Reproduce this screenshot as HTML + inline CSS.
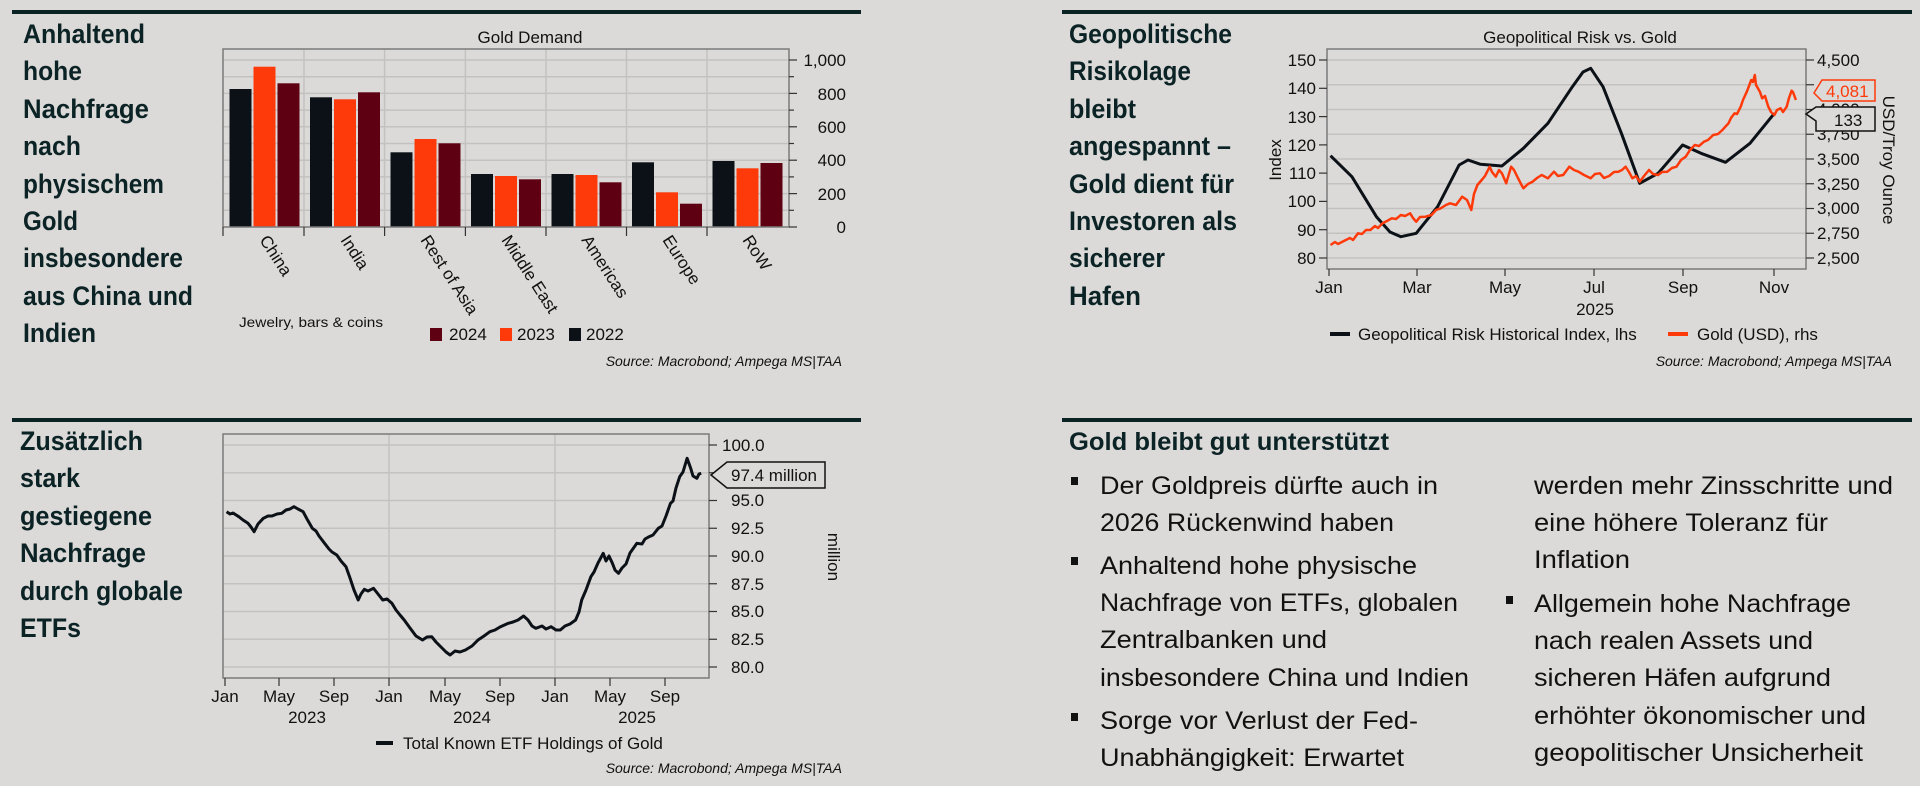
<!DOCTYPE html>
<html><head><meta charset="utf-8"><style>
html,body{margin:0;padding:0;background:#fff}
svg{display:block}
.h{font-family:"Liberation Sans Narrow","Liberation Sans",sans-serif;font-weight:bold;font-size:27px;fill:#0c2326}
.b{font-family:"Liberation Sans Narrow","Liberation Sans",sans-serif;font-size:25px;fill:#111}
.t{font-family:"Liberation Sans Narrow","Liberation Sans",sans-serif;font-size:17px;fill:#111}
.s{font-family:"Liberation Sans Narrow","Liberation Sans",sans-serif;font-size:14px;fill:#111;font-style:italic}
</style></head><body>
<svg width="1920" height="798" viewBox="0 0 1920 798" xmlns="http://www.w3.org/2000/svg">
<rect width="1920" height="786" fill="#dcdad8"/>
<!-- top lines -->
<rect x="12" y="10" width="849" height="4" fill="#0c2326"/>
<rect x="1062" y="10" width="850" height="4" fill="#0c2326"/>
<rect x="12" y="418" width="849" height="4" fill="#0c2326"/>
<rect x="1062" y="418" width="850" height="4" fill="#0c2326"/>

<!-- Panel 1 headline -->
<g class="h">
<text x="23" y="43" textLength="122" lengthAdjust="spacingAndGlyphs">Anhaltend</text>
<text x="23" y="80" textLength="59" lengthAdjust="spacingAndGlyphs">hohe</text>
<text x="23" y="118" textLength="126" lengthAdjust="spacingAndGlyphs">Nachfrage</text>
<text x="23" y="155" textLength="58" lengthAdjust="spacingAndGlyphs">nach</text>
<text x="23" y="193" textLength="141" lengthAdjust="spacingAndGlyphs">physischem</text>
<text x="23" y="230" textLength="55" lengthAdjust="spacingAndGlyphs">Gold</text>
<text x="23" y="267" textLength="160" lengthAdjust="spacingAndGlyphs">insbesondere</text>
<text x="23" y="305" textLength="170" lengthAdjust="spacingAndGlyphs">aus China und</text>
<text x="23" y="342" textLength="73" lengthAdjust="spacingAndGlyphs">Indien</text>
</g>
<!-- Bar chart -->
<text class="t" x="530" y="43" text-anchor="middle">Gold Demand</text>
<g stroke="#c4c2c0" stroke-width="1.5">
<line x1="223" x2="789" y1="210.3" y2="210.3"/><line x1="223" x2="789" y1="193.6" y2="193.6"/>
<line x1="223" x2="789" y1="176.9" y2="176.9"/><line x1="223" x2="789" y1="160.2" y2="160.2"/>
<line x1="223" x2="789" y1="143.5" y2="143.5"/><line x1="223" x2="789" y1="126.8" y2="126.8"/>
<line x1="223" x2="789" y1="110.1" y2="110.1"/><line x1="223" x2="789" y1="93.4" y2="93.4"/>
<line x1="223" x2="789" y1="76.7" y2="76.7"/><line x1="223" x2="789" y1="60" y2="60"/>
<line x1="304" x2="304" y1="49" y2="227"/><line x1="384.6" x2="384.6" y1="49" y2="227"/>
<line x1="465.4" x2="465.4" y1="49" y2="227"/><line x1="546" x2="546" y1="49" y2="227"/>
<line x1="626.5" x2="626.5" y1="49" y2="227"/><line x1="707" x2="707" y1="49" y2="227"/>
</g>
<g>
<!-- China -->
<rect x="229.5" y="89" width="22" height="138" fill="#0b1117"/><rect x="253.5" y="66.7" width="22" height="160.3" fill="#ff3a0a"/><rect x="277.5" y="83.3" width="22" height="143.7" fill="#5e0011"/>
<rect x="310" y="97.3" width="22" height="129.7" fill="#0b1117"/><rect x="334" y="99.3" width="22" height="127.7" fill="#ff3a0a"/><rect x="358" y="92.3" width="22" height="134.7" fill="#5e0011"/>
<rect x="390.5" y="152.3" width="22" height="74.7" fill="#0b1117"/><rect x="414.5" y="139" width="22" height="88" fill="#ff3a0a"/><rect x="438.5" y="143.3" width="22" height="83.7" fill="#5e0011"/>
<rect x="471" y="174" width="22" height="53" fill="#0b1117"/><rect x="495" y="176" width="22" height="51" fill="#ff3a0a"/><rect x="519" y="179.3" width="22" height="47.7" fill="#5e0011"/>
<rect x="551.5" y="174" width="22" height="53" fill="#0b1117"/><rect x="575.5" y="175" width="22" height="52" fill="#ff3a0a"/><rect x="599.5" y="182.3" width="22" height="44.7" fill="#5e0011"/>
<rect x="632" y="162.3" width="22" height="64.7" fill="#0b1117"/><rect x="656" y="192.3" width="22" height="34.7" fill="#ff3a0a"/><rect x="680" y="203.7" width="22" height="23.3" fill="#5e0011"/>
<rect x="712.5" y="161" width="22" height="66" fill="#0b1117"/><rect x="736.5" y="168.3" width="22" height="58.7" fill="#ff3a0a"/><rect x="760.5" y="163" width="22" height="64" fill="#5e0011"/>
</g>
<rect x="223" y="49" width="566" height="178" fill="none" stroke="#7a7a7a" stroke-width="1.5"/>
<g stroke="#333" stroke-width="1.2">
<line x1="223" x2="223" y1="227" y2="236"/><line x1="304" x2="304" y1="227" y2="236"/><line x1="384.6" x2="384.6" y1="227" y2="236"/><line x1="465.4" x2="465.4" y1="227" y2="236"/><line x1="546" x2="546" y1="227" y2="236"/><line x1="626.5" x2="626.5" y1="227" y2="236"/><line x1="707" x2="707" y1="227" y2="236"/>
<line x1="789" x2="797" y1="227" y2="227"/><line x1="789" x2="797" y1="193.6" y2="193.6"/><line x1="789" x2="797" y1="160.2" y2="160.2"/><line x1="789" x2="797" y1="126.8" y2="126.8"/><line x1="789" x2="797" y1="93.4" y2="93.4"/><line x1="789" x2="797" y1="60" y2="60"/>
<line x1="789" x2="794" y1="210.3" y2="210.3"/><line x1="789" x2="794" y1="176.9" y2="176.9"/><line x1="789" x2="794" y1="143.5" y2="143.5"/><line x1="789" x2="794" y1="110.1" y2="110.1"/><line x1="789" x2="794" y1="76.7" y2="76.7"/>
</g>
<g class="t" text-anchor="end">
<text x="846" y="233">0</text><text x="846" y="200">200</text><text x="846" y="166">400</text><text x="846" y="133">600</text><text x="846" y="100">800</text><text x="846" y="66">1,000</text>
</g>
<g class="t">
<text transform="translate(259,240) rotate(57)">China</text>
<text transform="translate(340,240) rotate(57)">India</text>
<text transform="translate(420,240) rotate(57)">Rest of Asia</text>
<text transform="translate(501,240) rotate(57)">Middle East</text>
<text transform="translate(581,240) rotate(57)">Americas</text>
<text transform="translate(662,240) rotate(57)">Europe</text>
<text transform="translate(742,240) rotate(57)">RoW</text>
</g>
<text x="239" y="327" font-family="Liberation Sans Narrow,Liberation Sans,sans-serif" font-size="14" fill="#111" textLength="144" lengthAdjust="spacingAndGlyphs">Jewelry, bars &amp; coins</text>
<rect x="430" y="328" width="12" height="13" fill="#5e0011"/><text class="t" x="449" y="340">2024</text>
<rect x="500" y="328" width="12" height="13" fill="#ff3a0a"/><text class="t" x="517" y="340">2023</text>
<rect x="569" y="328" width="12" height="13" fill="#0b1117"/><text class="t" x="586" y="340">2022</text>
<text class="s" x="842" y="366" text-anchor="end">Source: Macrobond; Ampega MS|TAA</text>

<!-- Panel 2 headline -->
<g class="h">
<text x="1069" y="43" textLength="163" lengthAdjust="spacingAndGlyphs">Geopolitische</text>
<text x="1069" y="80" textLength="122" lengthAdjust="spacingAndGlyphs">Risikolage</text>
<text x="1069" y="118" textLength="67" lengthAdjust="spacingAndGlyphs">bleibt</text>
<text x="1069" y="155" textLength="162" lengthAdjust="spacingAndGlyphs">angespannt –</text>
<text x="1069" y="193" textLength="165" lengthAdjust="spacingAndGlyphs">Gold dient für</text>
<text x="1069" y="230" textLength="168" lengthAdjust="spacingAndGlyphs">Investoren als</text>
<text x="1069" y="267" textLength="96" lengthAdjust="spacingAndGlyphs">sicherer</text>
<text x="1069" y="305" textLength="72" lengthAdjust="spacingAndGlyphs">Hafen</text>
</g>
<text class="t" x="1580" y="43" text-anchor="middle">Geopolitical Risk vs. Gold</text>
<g stroke="#c4c2c0" stroke-width="1.5">
<line x1="1327" x2="1806" y1="60" y2="60"/><line x1="1327" x2="1806" y1="84.75" y2="84.75"/><line x1="1327" x2="1806" y1="109.5" y2="109.5"/><line x1="1327" x2="1806" y1="134.25" y2="134.25"/><line x1="1327" x2="1806" y1="159" y2="159"/><line x1="1327" x2="1806" y1="183.75" y2="183.75"/><line x1="1327" x2="1806" y1="208.5" y2="208.5"/><line x1="1327" x2="1806" y1="233.25" y2="233.25"/><line x1="1327" x2="1806" y1="258" y2="258"/>
</g>
<rect x="1327" y="49" width="479" height="220" fill="none" stroke="#7a7a7a" stroke-width="1.5"/>
<polyline fill="none" stroke="#0b1117" stroke-width="3" stroke-linejoin="round" points="1330.5,155.7 1351.9,176.7 1376.4,216.7 1390,232 1400.9,236.7 1416.2,233.3 1437.6,206.7 1459.1,165 1468,160 1480.5,164.3 1501.9,166 1523.4,148.3 1547.9,123.3 1572.4,86.7 1583,72 1590.7,68.3 1603,86.7 1621.4,133.3 1639.7,183.3 1658.1,173.3 1682.6,145 1701,153.3 1725.5,162.3 1750,143.3 1774.4,113.3"/>
<polyline fill="none" stroke="#ff3a0a" stroke-width="2.5" stroke-linejoin="round" points="1330.5,245 1335,242 1338,244 1345.8,240 1350,238 1353,240 1358,233.3 1362,234 1366,230 1370.3,230 1375,226 1378,228 1382.5,223.3 1387,221 1391.7,218.3 1396,219 1400.9,215 1405,216 1410.1,213.3 1413,218 1416.2,221.7 1420,217 1425.4,216.7 1431.5,215 1436,210 1440.7,208.3 1446,205 1450,203.3 1456,205 1462.1,196.7 1467,200 1471.3,210 1474,194 1477.4,185 1481.7,180 1485,176 1489.7,166.7 1492,172 1495.8,176.7 1499,170 1501.9,173.3 1506.2,183.3 1511.1,166.7 1514,170 1517.3,176.7 1521,184 1523.4,188.3 1528,184 1532.6,181.7 1537,178 1541.7,175 1547.9,178.3 1554,171.7 1558,176 1563.2,175 1569.3,166.7 1574,170 1578.5,171.7 1584,175 1590.7,178.3 1595,174 1599.9,173.3 1604,178 1609.1,176 1614,172 1618.3,171.7 1622,170 1625.6,166.7 1629,172 1632.4,178.3 1636,176 1639.7,181.7 1644,176 1649,170 1653,174 1658.1,175 1662,172 1667.3,171.7 1672,168 1676.5,166.7 1681,160 1685.7,156.7 1690,150 1694.8,145 1699,146 1704,141.7 1708,140 1713.2,135 1718,134 1722.4,130 1726,126 1728.5,123.3 1731,118 1734.6,113.3 1737,114 1740.7,106.7 1743,100 1746.8,91.7 1749,86 1751.2,80 1753,82 1754.8,75 1756,85 1757.9,88.3 1760,92 1762.2,98.3 1765,96 1768.3,106.7 1771,112 1774.4,115 1777,110 1780.6,108.3 1783,112 1786.7,106.7 1789,98 1791.6,90.7 1793,92 1795.9,100"/>
<g stroke="#333" stroke-width="1.2">
<line x1="1319" x2="1327" y1="60" y2="60"/><line x1="1319" x2="1327" y1="88.3" y2="88.3"/><line x1="1319" x2="1327" y1="116.6" y2="116.6"/><line x1="1319" x2="1327" y1="144.9" y2="144.9"/><line x1="1319" x2="1327" y1="173.1" y2="173.1"/><line x1="1319" x2="1327" y1="201.4" y2="201.4"/><line x1="1319" x2="1327" y1="229.7" y2="229.7"/><line x1="1319" x2="1327" y1="258" y2="258"/>
<line x1="1806" x2="1814" y1="60" y2="60"/><line x1="1806" x2="1814" y1="84.75" y2="84.75"/><line x1="1806" x2="1814" y1="109.5" y2="109.5"/><line x1="1806" x2="1814" y1="134.25" y2="134.25"/><line x1="1806" x2="1814" y1="159" y2="159"/><line x1="1806" x2="1814" y1="183.75" y2="183.75"/><line x1="1806" x2="1814" y1="208.5" y2="208.5"/><line x1="1806" x2="1814" y1="233.25" y2="233.25"/><line x1="1806" x2="1814" y1="258" y2="258"/>
<line x1="1329" x2="1329" y1="269" y2="276"/><line x1="1417" x2="1417" y1="269" y2="276"/><line x1="1505" x2="1505" y1="269" y2="276"/><line x1="1594" x2="1594" y1="269" y2="276"/><line x1="1683" x2="1683" y1="269" y2="276"/><line x1="1774" x2="1774" y1="269" y2="276"/>
</g>
<g class="t" text-anchor="end">
<text x="1316" y="66">150</text><text x="1316" y="94">140</text><text x="1316" y="123">130</text><text x="1316" y="151">120</text><text x="1316" y="179">110</text><text x="1316" y="207">100</text><text x="1316" y="236">90</text><text x="1316" y="264">80</text>
</g>
<g class="t">
<text x="1817" y="66">4,500</text><text x="1817" y="91">4,250</text><text x="1817" y="115">4,000</text><text x="1817" y="140">3,750</text><text x="1817" y="165">3,500</text><text x="1817" y="190">3,250</text><text x="1817" y="214">3,000</text><text x="1817" y="239">2,750</text><text x="1817" y="264">2,500</text>
</g>
<path d="M1814,93 L1822,80 L1875,80 L1875,101 L1822,101 Z" fill="#dcdad8" stroke="#ff3a0a" stroke-width="1.5"/>
<text x="1826" y="97" font-family="Liberation Sans Narrow,Liberation Sans,sans-serif" font-size="17" fill="#ff3a0a">4,081</text>
<path d="M1806,114 L1816,107 L1875,107 L1875,131 L1816,131 L1816,121 Z" fill="#dcdad8" stroke="#111" stroke-width="1.5"/>
<text x="1834" y="126" class="t">133</text>
<text class="t" transform="translate(1281,160) rotate(-90)" text-anchor="middle">Index</text>
<text class="t" transform="translate(1883,160) rotate(90)" text-anchor="middle">USD/Troy Ounce</text>
<g class="t" text-anchor="middle">
<text x="1329" y="293">Jan</text><text x="1417" y="293">Mar</text><text x="1505" y="293">May</text><text x="1594" y="293">Jul</text><text x="1683" y="293">Sep</text><text x="1774" y="293">Nov</text><text x="1595" y="315">2025</text>
</g>
<rect x="1330" y="332" width="20" height="4" fill="#0b1117"/>
<text class="t" x="1358" y="340">Geopolitical Risk Historical Index, lhs</text>
<rect x="1668" y="332" width="20" height="4" fill="#ff3a0a"/>
<text class="t" x="1697" y="340">Gold (USD), rhs</text>
<text class="s" x="1892" y="366" text-anchor="end">Source: Macrobond; Ampega MS|TAA</text>

<!-- Panel 3 -->
<g class="h">
<text x="20" y="450" textLength="123" lengthAdjust="spacingAndGlyphs">Zusätzlich</text>
<text x="20" y="487" textLength="60" lengthAdjust="spacingAndGlyphs">stark</text>
<text x="20" y="525" textLength="132" lengthAdjust="spacingAndGlyphs">gestiegene</text>
<text x="20" y="562" textLength="126" lengthAdjust="spacingAndGlyphs">Nachfrage</text>
<text x="20" y="600" textLength="163" lengthAdjust="spacingAndGlyphs">durch globale</text>
<text x="20" y="637" textLength="61" lengthAdjust="spacingAndGlyphs">ETFs</text>
</g>
<g stroke="#c4c2c0" stroke-width="1.5">
<line x1="223" x2="709" y1="445" y2="445"/><line x1="223" x2="709" y1="472.75" y2="472.75"/><line x1="223" x2="709" y1="500.5" y2="500.5"/><line x1="223" x2="709" y1="528.25" y2="528.25"/><line x1="223" x2="709" y1="556" y2="556"/><line x1="223" x2="709" y1="583.75" y2="583.75"/><line x1="223" x2="709" y1="611.5" y2="611.5"/><line x1="223" x2="709" y1="639.25" y2="639.25"/><line x1="223" x2="709" y1="667" y2="667"/>
<line x1="389" x2="389" y1="434" y2="678"/><line x1="555" x2="555" y1="434" y2="678"/>
</g>
<rect x="223" y="434" width="486" height="244" fill="none" stroke="#7a7a7a" stroke-width="1.5"/>
<polyline fill="none" stroke="#0b1117" stroke-width="3" stroke-linejoin="round" points="226.6,511.7 230,514 233,513 238.8,516.7 243,520 248,523.3 251,527 254.1,531.7 258,524 263.3,518.3 268,516 272,516 277,514 281.7,513.3 286,510 290,509 293.9,506.7 298,509 303.1,511.7 307,519 312.3,528.3 316,531 319,536 324.6,543.3 329,549 332,552 336.8,555 341,561 346,566.7 350,578 354,590 358.2,600 361,594 364.4,589.3 368,591 373.5,588.3 378,594 382.7,600 387,599 391.9,603.3 396,610 400,615 404.2,620 410,628 416,636 422.5,640 427,637 431.7,636.7 436,642 442,648 446,652 450.1,655 455,651 460,652 465.4,650 472,646 478,640 484,636 489.9,631.7 495,630 500,627 508.3,623.3 513,622 518,620 523.6,616 528,620 532,626 535.8,628.3 542,626 546,629 551.1,626.7 556,630 560.3,630 565,626 570,624 575.6,620 579,612 581.7,600 586,590 590.9,576.7 594,572 598,563 603.2,553.3 606,561 609,556 612.4,563.3 615,570 618.5,573.3 622,568 626,564 630,553 636.9,543.3 642,544 645,539 649.1,536.7 653,535 658.3,528.3 662,526 666,516 670.5,503.3 673,501 676,488 679.7,476.7 683,472 687.1,458.3 690.7,468.3 693,476 696.9,478.3 699,474 701.2,473.3"/>
<g stroke="#333" stroke-width="1.2">
<line x1="709" x2="717" y1="445" y2="445"/><line x1="709" x2="717" y1="472.75" y2="472.75"/><line x1="709" x2="717" y1="500.5" y2="500.5"/><line x1="709" x2="717" y1="528.25" y2="528.25"/><line x1="709" x2="717" y1="556" y2="556"/><line x1="709" x2="717" y1="583.75" y2="583.75"/><line x1="709" x2="717" y1="611.5" y2="611.5"/><line x1="709" x2="717" y1="639.25" y2="639.25"/><line x1="709" x2="717" y1="667" y2="667"/>
<line x1="225" x2="225" y1="678" y2="686"/><line x1="279" x2="279" y1="678" y2="686"/><line x1="334" x2="334" y1="678" y2="686"/><line x1="389" x2="389" y1="678" y2="686"/><line x1="445" x2="445" y1="678" y2="686"/><line x1="500" x2="500" y1="678" y2="686"/><line x1="555" x2="555" y1="678" y2="686"/><line x1="610" x2="610" y1="678" y2="686"/><line x1="665" x2="665" y1="678" y2="686"/>
</g>
<g class="t">
<text x="722" y="451">100.0</text><text x="731" y="506">95.0</text><text x="731" y="534">92.5</text><text x="731" y="562">90.0</text><text x="731" y="590">87.5</text><text x="731" y="617">85.0</text><text x="731" y="645">82.5</text><text x="731" y="673">80.0</text>
</g>
<path d="M711,475 L727,462 L825,462 L825,488 L727,488 Z" fill="#dcdad8" stroke="#111" stroke-width="1.5"/>
<text class="t" x="731" y="481">97.4 million</text>
<text class="t" transform="translate(828,557) rotate(90)" text-anchor="middle">million</text>
<g class="t" text-anchor="middle">
<text x="225" y="702">Jan</text><text x="279" y="702">May</text><text x="334" y="702">Sep</text><text x="389" y="702">Jan</text><text x="445" y="702">May</text><text x="500" y="702">Sep</text><text x="555" y="702">Jan</text><text x="610" y="702">May</text><text x="665" y="702">Sep</text>
<text x="307" y="723">2023</text><text x="472" y="723">2024</text><text x="637" y="723">2025</text>
</g>
<rect x="376" y="741" width="17" height="4" fill="#0b1117"/>
<text class="t" x="403" y="749">Total Known ETF Holdings of Gold</text>
<text class="s" x="842" y="773" text-anchor="end">Source: Macrobond; Ampega MS|TAA</text>

<!-- Panel 4 -->
<text class="h" x="1069" y="450" textLength="320" lengthAdjust="spacingAndGlyphs" style="font-size:25px">Gold bleibt gut unterstützt</text>
<g fill="#111">
<rect x="1071" y="477" width="7" height="8"/><rect x="1071" y="557" width="7" height="8"/><rect x="1071" y="713" width="7" height="8"/><rect x="1506" y="596" width="7" height="8"/>
</g>
<g class="b">
<text x="1100" y="494" textLength="338" lengthAdjust="spacingAndGlyphs">Der Goldpreis dürfte auch in</text>
<text x="1100" y="531" textLength="294" lengthAdjust="spacingAndGlyphs">2026 Rückenwind haben</text>
<text x="1100" y="574" textLength="317" lengthAdjust="spacingAndGlyphs">Anhaltend hohe physische</text>
<text x="1100" y="611" textLength="358" lengthAdjust="spacingAndGlyphs">Nachfrage von ETFs, globalen</text>
<text x="1100" y="648" textLength="227" lengthAdjust="spacingAndGlyphs">Zentralbanken und</text>
<text x="1100" y="686" textLength="369" lengthAdjust="spacingAndGlyphs">insbesondere China und Indien</text>
<text x="1100" y="729" textLength="318" lengthAdjust="spacingAndGlyphs">Sorge vor Verlust der Fed-</text>
<text x="1100" y="766" textLength="304" lengthAdjust="spacingAndGlyphs">Unabhängigkeit: Erwartet</text>
<text x="1534" y="494" textLength="359" lengthAdjust="spacingAndGlyphs">werden mehr Zinsschritte und</text>
<text x="1534" y="531" textLength="294" lengthAdjust="spacingAndGlyphs">eine höhere Toleranz für</text>
<text x="1534" y="568" textLength="96" lengthAdjust="spacingAndGlyphs">Inflation</text>
<text x="1534" y="612" textLength="317" lengthAdjust="spacingAndGlyphs">Allgemein hohe Nachfrage</text>
<text x="1534" y="649" textLength="279" lengthAdjust="spacingAndGlyphs">nach realen Assets und</text>
<text x="1534" y="686" textLength="297" lengthAdjust="spacingAndGlyphs">sicheren Häfen aufgrund</text>
<text x="1534" y="724" textLength="332" lengthAdjust="spacingAndGlyphs">erhöhter ökonomischer und</text>
<text x="1534" y="761" textLength="329" lengthAdjust="spacingAndGlyphs">geopolitischer Unsicherheit</text>
</g>
</svg>
</body></html>
